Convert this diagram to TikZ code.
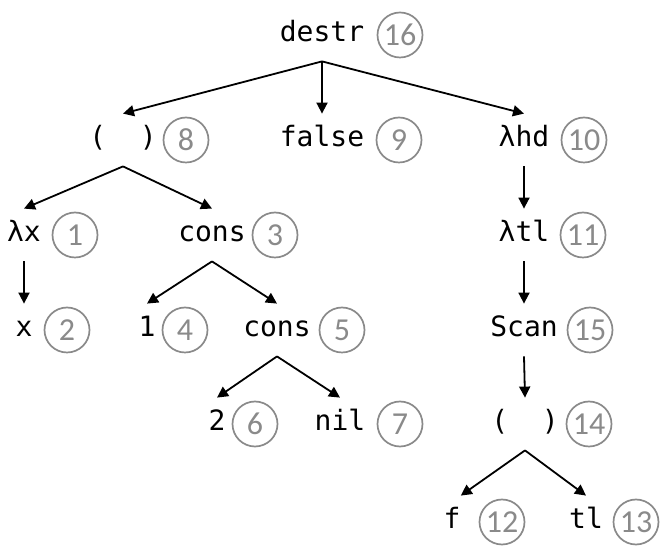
\documentclass[tikz,border=0pt]{standalone}
\usepackage{fontspec}
\usepackage{xcolor}
\usepackage{tikz}
\usetikzlibrary{arrows.meta,positioning}
\newfontfamily\treemono{DejaVu Sans Mono}
\newfontfamily\treenum{Carlito}
\definecolor{NumGray}{HTML}{8A8A8A}
\tikzset{
  term/.style={font=\treemono\fontsize{14}{16}\selectfont,inner sep=0pt,text height=10pt,text depth=3pt,minimum height=26pt},
  num/.style={circle,draw=NumGray,line width=0.85pt,text=NumGray,font=\treenum\fontsize{16}{18}\selectfont,minimum size=22.5pt,inner sep=0pt},
  edge/.style={-{Triangle[length=5.5pt,width=5.5pt]},line width=0.9pt,draw=black}
}
\begin{document}
\begin{tikzpicture}[x=0.5pt,y=-0.5pt]
\useasboundingbox (0,0) rectangle (665,550);
% root
\node[term] (destr) at (322,35) {destr};
\node[num] (n16) at (400,35) {16};
% row 1
\node[term] (pair) at (123,140) {(\phantom{xx})};
\node[num] (n8) at (186,140) {8};
\node[term] (false) at (322,140) {false};
\node[num] (n9) at (399,140) {9};
\node[term] (lhd) at (524,140) {λhd};
\node[num] (n10) at (584,140) {10};
% row 2
\node[term] (lx) at (24,235) {λx};
\node[num] (n1) at (75,235) {1};
\node[term] (cons) at (212,235) {cons};
\node[num] (n3) at (275,235) {3};
\node[term] (ltl) at (524,235) {λtl};
\node[num] (n11) at (583,235) {11};
% row 3
\node[term] (x) at (24,330) {x};
\node[num] (n2) at (67,330) {2};
\node[term] (one) at (147,330) {1};
\node[num] (n4) at (185,330) {4};
\node[term] (cons2) at (277,330) {cons};
\node[num] (n5) at (342,330) {5};
\node[term] (scan) at (524,330) {Scan};
\node[num] (n15) at (590,330) {15};
% row 4
\node[term] (two) at (217,424) {2};
\node[num] (n6) at (255,424) {6};
\node[term] (nil) at (340,424) {nil};
\node[num] (n7) at (400,424) {7};
\node[term] (pair2) at (525,424) {(\phantom{xx})};
\node[num] (n14) at (589,424) {14};
% row 5
\node[term] (f) at (452,522) {f};
\node[num] (n12) at (502,522) {12};
\node[term] (tl) at (586,522) {tl};
\node[num] (n13) at (636,522) {13};

\draw[edge] (destr.south) -- (pair.north);
\draw[edge] (destr.south) -- (false.north);
\draw[edge] (destr.south) -- (lhd.north);
\draw[edge] (pair.south) -- (lx.north);
\draw[edge] (pair.south) -- (cons.north);
\draw[edge] (lhd.south) -- (ltl.north);
\draw[edge] (lx.south) -- (x.north);
\draw[edge] (cons.south) -- (one.north);
\draw[edge] (cons.south) -- (cons2.north);
\draw[edge] (ltl.south) -- (scan.north);
\draw[edge] (cons2.south) -- (two.north);
\draw[edge] (cons2.south) -- (nil.north);
\draw[edge] (scan.south) -- (pair2.north);
\draw[edge] (pair2.south) -- (f.north east);
\draw[edge] (pair2.south) -- (tl.north);
\end{tikzpicture}
\end{document}
